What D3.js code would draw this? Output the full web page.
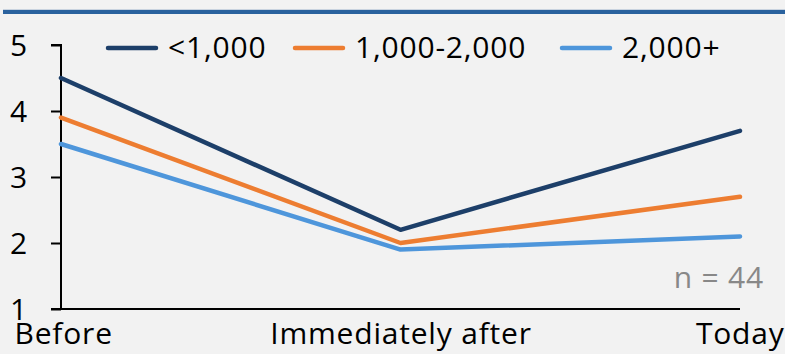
<!DOCTYPE html>
<html>
<head>
<meta charset="utf-8">
<script src="https://cdn.jsdelivr.net/npm/d3@7"></script>
<style>
  html, body { margin: 0; padding: 0; background: #f2f2f2; }
  svg { display: block; }
  text { font-family: "Open Sans", "Noto Sans", "Liberation Sans", sans-serif; letter-spacing: 0.8px; }
</style>
</head>
<body>
<svg id="chart" width="785" height="354"></svg>
<script>
// Time points along the x axis
const categories = ["Before", "Immediately after", "Today"];
// Series names (size groups)
const seriesNames = ["<1,000", "1,000-2,000", "2,000+"];
// Values per series, one per time point
const valuesUnder1000 = [4.5, 2.2, 3.7];
const values1000to2000 = [3.9, 2.0, 2.7];
const values2000plus = [3.5, 1.9, 2.1];
// Y axis ticks
const yTicks = [1, 2, 3, 4, 5];
const noteText = "n = 44";

const colors = ["#1d3f69", "#ed7d31", "#4e96db"];
const series = [valuesUnder1000, values1000to2000, values2000plus].map((v, i) => ({
  name: seriesNames[i], values: v, color: colors[i]
}));

const W = 785, H = 354;
const svg = d3.select("#chart");
const fontSize = 30;

svg.append("rect").attr("width", W).attr("height", H).attr("fill", "#f2f2f2");
// header rule
svg.append("rect").attr("x", 3).attr("y", 9).attr("width", W - 3).attr("height", 1).attr("fill", "#c9d3df");
svg.append("rect").attr("x", 3).attr("y", 10).attr("width", W - 3).attr("height", 4).attr("fill", "#2a629e");

const x = d3.scalePoint().domain(categories).range([61, 740]);
const y = d3.scaleLinear().domain([1, 5]).range([309, 45]);

// y axis
const yAxis = d3.axisLeft(y).tickValues(yTicks).tickSize(10).tickFormat(d3.format("d"));
const gy = svg.append("g").attr("transform", "translate(61,0)").call(yAxis);
gy.select(".domain").attr("stroke", "#000").attr("stroke-width", 2).attr("d", "M-10,45H0V309H-10");
gy.selectAll(".tick line").attr("stroke", "#000").attr("stroke-width", 2);
gy.selectAll(".tick text").attr("font-size", fontSize).attr("fill", "#000")
  .attr("x", -42).attr("text-anchor", "middle").attr("dy", "0.34em");

// x axis
const xAxis = d3.axisBottom(x).tickSize(0).tickPadding(14);
const gx = svg.append("g").attr("transform", "translate(0,309)").call(xAxis);
gx.select(".domain").attr("stroke", "#000").attr("stroke-width", 2).attr("d", "M51,0H740");
gx.selectAll(".tick text").attr("font-size", fontSize).attr("fill", "#000").attr("dy", "0.7em")
  .attr("text-anchor", d => d === "Before" ? "start" : d === "Today" ? "end" : "middle")
  .attr("dx", d => d === "Before" ? -47 : d === "Today" ? 44 : 0);

// lines
const line = d3.line().x((d, i) => x(categories[i])).y(d => y(d));
svg.append("g").selectAll("path").data(series).join("path")
  .attr("d", d => line(d.values))
  .attr("fill", "none")
  .attr("stroke", d => d.color)
  .attr("stroke-width", 4.5)
  .attr("stroke-linejoin", "round")
  .attr("stroke-linecap", "round");

// legend
const legendX = [108, 295, 562];
const lg = svg.append("g").selectAll("g").data(series).join("g")
  .attr("transform", (d, i) => `translate(${legendX[i]},48)`);
lg.append("line").attr("x1", 0).attr("x2", 48).attr("y1", 0).attr("y2", 0)
  .attr("stroke", d => d.color).attr("stroke-width", 4.5).attr("stroke-linecap", "round");
lg.append("text").attr("x", 60).attr("y", 0).attr("dy", "0.34em")
  .attr("font-size", fontSize).attr("fill", "#000").text(d => d.name);

// sample-size note
svg.append("text").attr("x", 764).attr("y", 288).attr("text-anchor", "end")
  .attr("font-size", fontSize).attr("fill", "#888").text(noteText);
</script>
</body>
</html>
